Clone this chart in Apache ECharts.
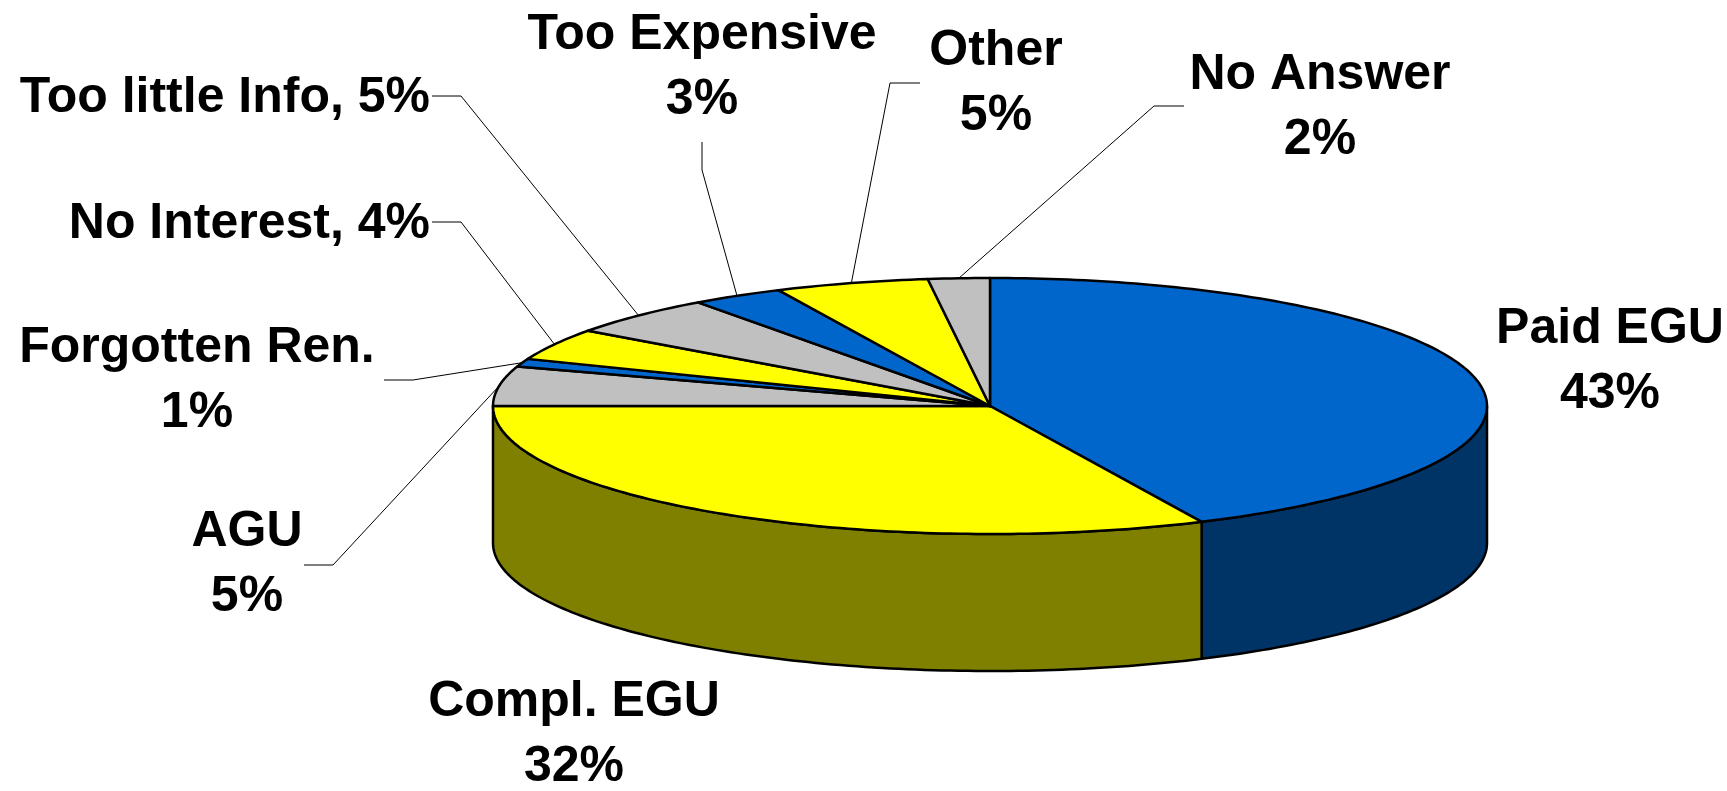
<!DOCTYPE html>
<html>
<head>
<meta charset="utf-8">
<script src="https://cdn.jsdelivr.net/npm/echarts@6/dist/echarts.min.js"></script>
<style>
  html, body { margin: 0; padding: 0; background: #fff; }
  #chart { width: 1727px; height: 791px; }
</style>
</head>
<body>
<div id="chart"></div>
<script>
// survey answers, percent
const categories = ['Paid EGU', 'Compl. EGU', 'AGU', 'Forgotten Ren.', 'No Interest', 'Too little Info', 'Too Expensive', 'Other', 'No Answer'];
const values = [43, 32, 5, 1, 4, 5, 3, 5, 2];

// colours of the slice tops and of the visible side walls
const topColors = ['#0066CC', '#FFFF00', '#C0C0C0', '#0066CC', '#FFFF00', '#C0C0C0', '#0066CC', '#FFFF00', '#C0C0C0'];
const sideColors = ['#003366', '#808000', '#808080', '#003366', '#808000', '#808080', '#003366', '#808000', '#808080'];

// label placement: centre/right anchor, one or two lines, leader elbow points
const labelLayout = [
  {x: 1610, y: 362, align: 'center', lines: 2, elbow: null},
  {x: 574, y: 735, align: 'center', lines: 2, elbow: null},
  {x: 247, y: 565, align: 'center', lines: 2, elbow: [[304, 565], [333, 565]]},
  {x: 197, y: 381, align: 'center', lines: 2, elbow: [[384, 380], [413, 380]]},
  {x: 430, y: 224, align: 'right', lines: 1, elbow: [[432, 222], [461, 222]]},
  {x: 430, y: 98, align: 'right', lines: 1, elbow: [[432, 96], [461, 96]]},
  {x: 702, y: 68, align: 'center', lines: 2, elbow: [[702, 142], [702, 170]]},
  {x: 996, y: 84, align: 'center', lines: 2, elbow: [[920, 83], [890, 83]]},
  {x: 1320, y: 108, align: 'center', lines: 2, elbow: [[1184, 106], [1154, 106]]}
];

const CX = 990, CY = 406, RX = 497, RY = 128, DEPTH = 137;
const FONT = 'bold 50px "Liberation Sans", Arial, sans-serif';

// cumulative angles in degrees, clockwise from 12 o'clock (screen coords)
const total = values.reduce((a, b) => a + b, 0);
const startAngles = [], endAngles = [];
let acc = 0;
values.forEach(v => {
  startAngles.push(-90 + acc / total * 360);
  acc += v;
  endAngles.push(-90 + acc / total * 360);
});

function pt(deg, dy) {
  const t = deg * Math.PI / 180;
  return [CX + RX * Math.cos(t), CY + RY * Math.sin(t) + (dy || 0)];
}
function arc(a0, a1, dy) {
  const pts = [];
  const n = Math.max(2, Math.ceil(Math.abs(a1 - a0)));
  for (let k = 0; k <= n; k++) pts.push(pt(a0 + (a1 - a0) * k / n, dy));
  return pts;
}

const chart = echarts.init(document.getElementById('chart'));
const option = {
  animation: false,
  backgroundColor: '#ffffff',
  series: [
    {
      name: 'sides',
      type: 'custom',
      coordinateSystem: 'none',
      z: 1,
      data: values,
      renderItem: (params, api) => {
        const i = params.dataIndex;
        const lo = Math.max(startAngles[i], 0);
        const hi = Math.min(endAngles[i], 180);
        if (hi <= lo) return {type: 'group', children: []};
        const pts = arc(lo, hi, 0).concat(arc(hi, lo, DEPTH));
        return {
          type: 'polygon',
          shape: {points: pts},
          style: {fill: sideColors[i], stroke: '#000', lineWidth: 2.5, lineJoin: 'round'}
        };
      }
    },
    {
      name: 'tops',
      type: 'custom',
      coordinateSystem: 'none',
      z: 2,
      data: values,
      renderItem: (params, api) => {
        const i = params.dataIndex;
        const pts = [[CX, CY]].concat(arc(startAngles[i], endAngles[i], 0));
        return {
          type: 'polygon',
          shape: {points: pts},
          style: {fill: topColors[i], stroke: '#000', lineWidth: 2.5, lineJoin: 'round'}
        };
      }
    },
    {
      name: 'labels',
      type: 'custom',
      coordinateSystem: 'none',
      z: 3,
      data: values,
      renderItem: (params, api) => {
        const i = params.dataIndex;
        const lay = labelLayout[i];
        const v = api.value(0);
        const txt = lay.lines === 2 ? categories[i] + '\n' + v + '%' : categories[i] + ', ' + v + '%';
        const children = [{
          type: 'text',
          x: lay.x,
          y: lay.y,
          style: {
            text: txt, font: FONT, fill: '#000',
            align: lay.align, verticalAlign: 'middle', lineHeight: 65
          }
        }];
        if (lay.elbow) {
          const mid = (startAngles[i] + endAngles[i]) / 2;
          children.push({
            type: 'polyline',
            shape: {points: lay.elbow.concat([pt(mid, 0)])},
            style: {stroke: '#000', lineWidth: 1, fill: null}
          });
        }
        return {type: 'group', children: children};
      }
    }
  ]
};
chart.setOption(option);
</script>
</body>
</html>
